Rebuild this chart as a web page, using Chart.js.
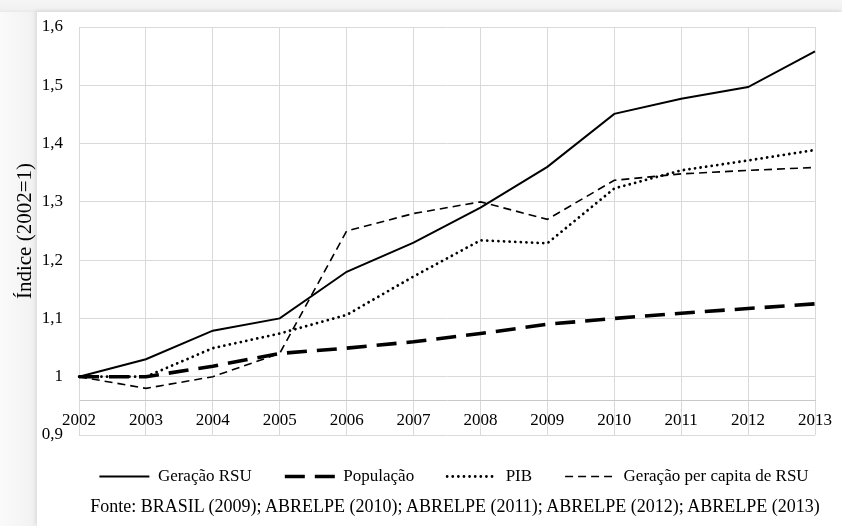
<!DOCTYPE html>
<html>
<head>
<meta charset="utf-8">
<script src="https://cdn.jsdelivr.net/npm/chart.js@4/dist/chart.umd.min.js"></script>
<style>
  html, body { margin: 0; padding: 0; }
  body { width: 842px; height: 526px; position: relative; overflow: hidden;
         background: linear-gradient(to right, #fafafa 0px, #f3f3f3 30px, #ececec 37px); }
  #panel { position: absolute; left: 37px; top: 12px; right: 0; bottom: 0; background: #ffffff;
           box-shadow: -2px -2px 3px rgba(0,0,0,0.06); }
  #topband { position: absolute; left: 0; top: 0; right: 0; height: 12px;
             background: linear-gradient(to bottom, #f6f6f6 0px, #f1f1f1 9px, #e9e9e9 12px); }
  canvas { position: absolute; left: 0; top: 0; }
  #source { position: absolute; left: 0; width: 910px; top: 496px; height: 20px; line-height: 20px;
            text-align: center; font-family: 'Liberation Serif', 'Times New Roman', serif;
            font-size: 18px; color: #000; white-space: nowrap; }
</style>
</head>
<body>
<div id="topband"></div>
<div id="panel"></div>
<canvas id="c" width="842" height="526"></canvas>
<div id="source"></div>
<script>
const years = ['2002','2003','2004','2005','2006','2007','2008','2009','2010','2011','2012','2013'];
const geracaoRSU = [1.00, 1.03, 1.079, 1.10, 1.18, 1.23, 1.29, 1.36, 1.451, 1.477, 1.497, 1.558];
const populacao = [1.00, 1.00, 1.018, 1.04, 1.049, 1.06, 1.074, 1.09, 1.10, 1.109, 1.117, 1.125];
const pib = [1.00, 1.00, 1.049, 1.074, 1.106, 1.172, 1.234, 1.229, 1.323, 1.354, 1.371, 1.389];
const perCapita = [1.00, 0.98, 1.00, 1.04, 1.25, 1.28, 1.30, 1.27, 1.337, 1.348, 1.354, 1.359];
const seriesNames = ['Geração RSU', 'População', 'PIB', 'Geração per capita de RSU'];
const yAxisTitle = 'Índice (2002=1)';
const sourceText = 'Fonte: BRASIL (2009); ABRELPE (2010); ABRELPE (2011); ABRELPE (2012); ABRELPE (2013)';
const yMin = 0.9, yMax = 1.6, yStep = 0.1, xAxisCross = 0.96;

document.getElementById('source').textContent = sourceText;

const FONT = 'Liberation Serif, Times New Roman, serif';
const LEGEND_CENTER_X = 454;

const legendShift = {
  id: 'legendShift',
  afterLayout(chart) {
    const lg = chart.legend;
    if (!lg) return;
    const d = LEGEND_CENTER_X - (lg.left + lg.right) / 2;
    lg.left += d; lg.right += d;
    if (lg.adjustHitBoxes) lg.adjustHitBoxes();
  }
};

new Chart(document.getElementById('c'), {
  type: 'line',
  data: {
    labels: years,
    datasets: [
      { label: seriesNames[0], data: geracaoRSU, borderColor: '#000', backgroundColor: '#000',
        borderWidth: 2, borderDash: [], pointStyle: 'line' },
      { label: seriesNames[1], data: populacao, borderColor: '#000', backgroundColor: '#000',
        borderWidth: 3.6, borderDash: [20, 10], pointStyle: 'line' },
      { label: seriesNames[2], data: pib, borderColor: '#000', backgroundColor: '#000',
        borderWidth: 2.8, borderDash: [0.01, 5.6], borderCapStyle: 'round', pointStyle: 'line' },
      { label: seriesNames[3], data: perCapita, borderColor: '#000', backgroundColor: '#000',
        borderWidth: 1.6, borderDash: [8, 5], pointStyle: 'line' }
    ]
  },
  plugins: [legendShift],
  options: {
    responsive: false,
    devicePixelRatio: 1,
    animation: false,
    elements: { line: { tension: 0, fill: false }, point: { radius: 0, hoverRadius: 0 } },
    layout: { padding: { left: 9, top: 27, right: 27, bottom: 31 } },
    scales: {
      x: {
        type: 'category',
        offset: false,
        position: { y: xAxisCross },
        grid: { color: '#d9d9d9', lineWidth: 1, drawTicks: false },
        border: { display: true, color: '#c8c8c8', width: 1 },
        ticks: { color: '#000', font: { family: FONT, size: 17 }, padding: 10,
                 maxRotation: 0, autoSkip: false }
      },
      y: {
        min: yMin, max: yMax,
        afterFit: (scale) => { scale.width = 70; },
        grid: { color: '#d9d9d9', lineWidth: 1, drawTicks: false },
        border: { display: true, color: '#d9d9d9', width: 1 },
        ticks: {
          stepSize: yStep, padding: 16, color: '#000', font: { family: FONT, size: 17 },
          callback: (v) => {
            const r = Math.round(v * 10) / 10;
            return (r % 1 === 0) ? String(r) : r.toFixed(1).replace('.', ',');
          }
        },
        title: { display: true, text: yAxisTitle, color: '#000', font: { family: FONT, size: 21 },
                 padding: { top: 4, bottom: 4 } }
      }
    },
    plugins: {
      legend: {
        position: 'bottom',
        labels: {
          usePointStyle: true, pointStyleWidth: 50, boxWidth: 50, boxHeight: 17,
          color: '#000', font: { family: FONT, size: 17 }, padding: 33,
          generateLabels: (chart) => chart.data.datasets.map((ds, i) => ({
            text: ds.label,
            fillStyle: 'rgba(0,0,0,0)',
            strokeStyle: ds.borderColor,
            lineWidth: ds.borderWidth,
            lineDash: ds.borderDash || [],
            lineCap: ds.borderCapStyle || 'butt',
            pointStyle: 'line',
            fontColor: '#000',
            hidden: false,
            datasetIndex: i
          }))
        }
      },
      title: { display: false },
      tooltip: { enabled: false }
    }
  }
});
</script>
</body>
</html>
